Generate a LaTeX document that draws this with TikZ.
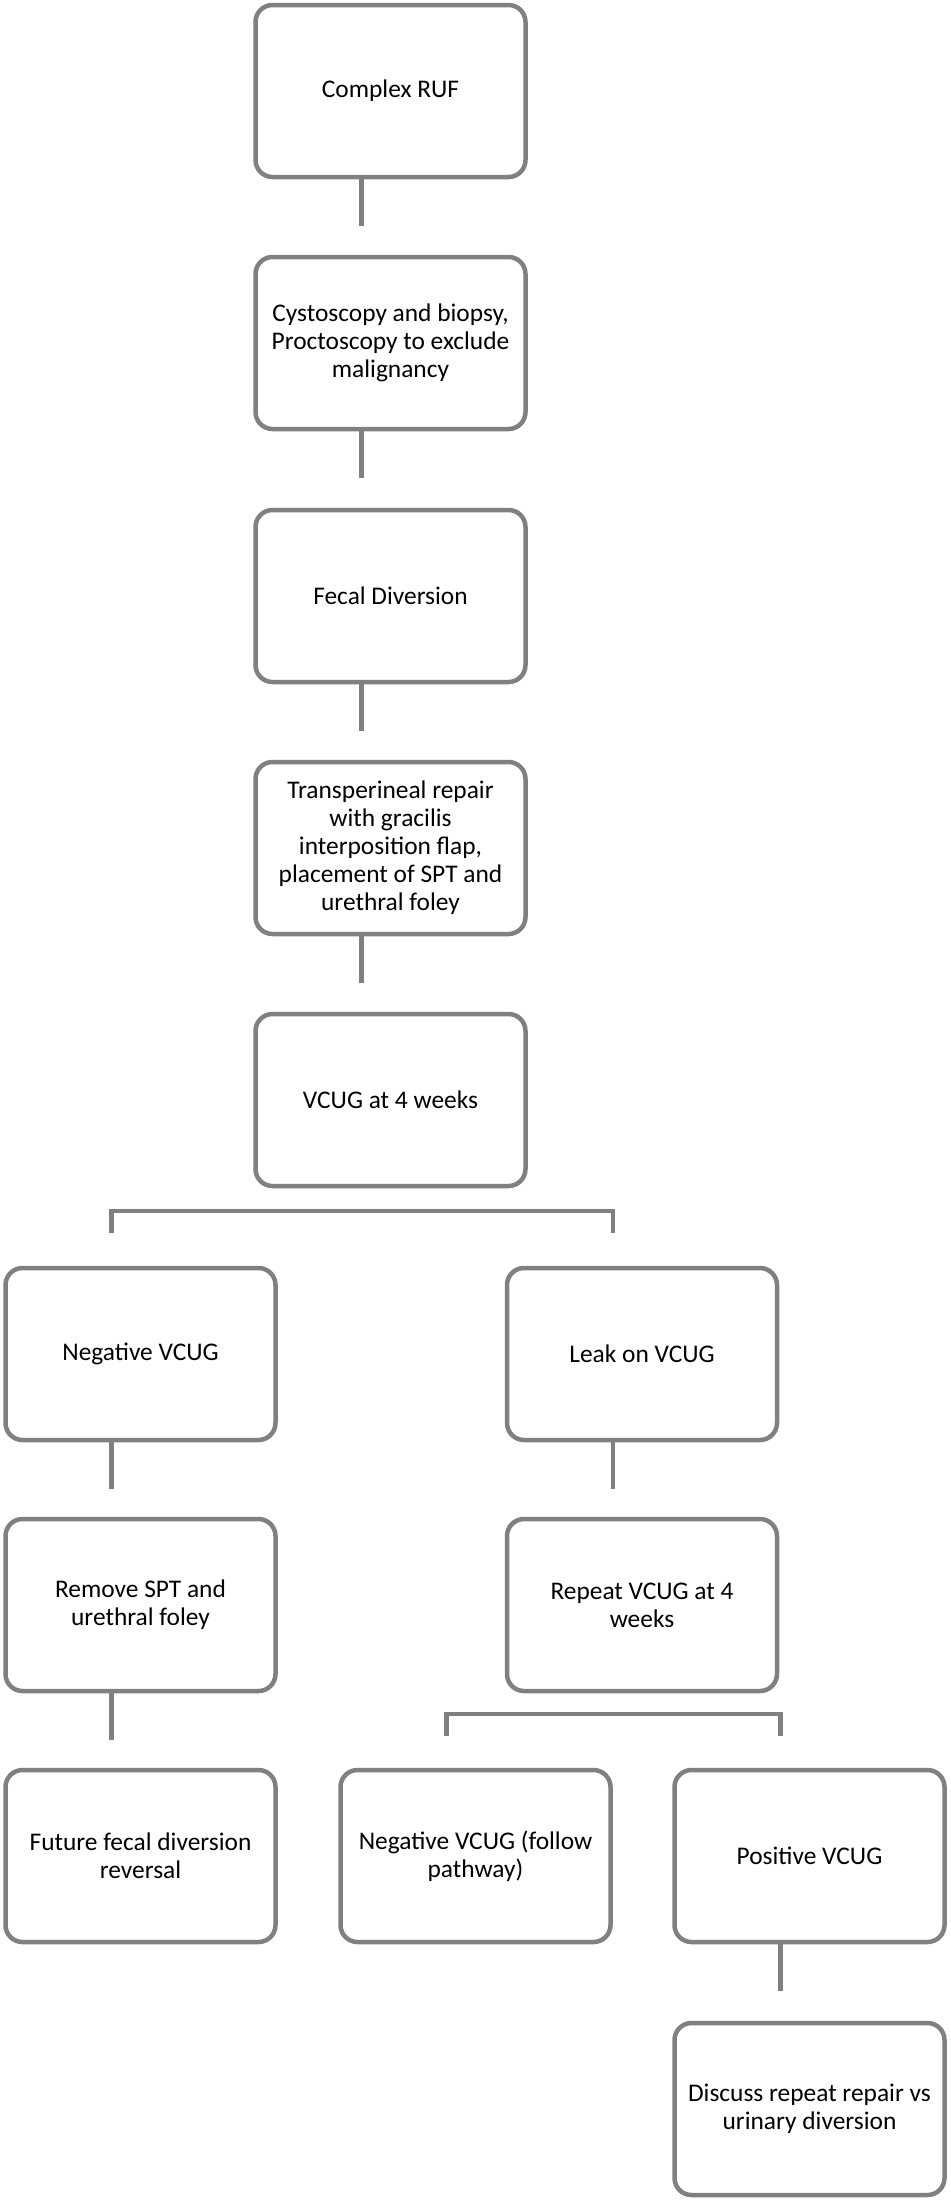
\documentclass[tikz,border=0pt]{standalone}
\usepackage{fontspec}
\setmainfont{Carlito}
\usetikzlibrary{calc}
\definecolor{boxgray}{RGB}{128,128,128}
\begin{document}
\begin{tikzpicture}[x=0.5pt,y=-0.5pt,
  box/.style={draw=boxgray, line width=2.25pt, rounded corners=8.5pt,
    minimum width=135pt, minimum height=86pt, inner sep=0pt, align=center,
    font=\fontsize{12.7}{14}\selectfont, fill=white},
  conn/.style={draw=boxgray, line width=2.25pt}]
\useasboundingbox (0,0) rectangle (950,2201);
% main column
\node[box] (ruf)   at (390.5,91)   {Complex RUF};
\node[box] (cysto) at (390.5,343)  {Cystoscopy and biopsy,\\Proctoscopy to exclude\\malignancy};
\node[box] (fecal) at (390.5,596)  {Fecal Diversion};
\node[box] (trans) at (390.5,848)  {Transperineal repair\\with gracilis\\interposition flap,\\placement of SPT and\\urethral foley};
\node[box] (vcug)  at (390.5,1100) {VCUG at 4 weeks};
% left branch
\node[box] (neg)    at (140.5,1354) {Negative VCUG};
\node[box] (remove) at (140.5,1605) {Remove SPT and\\urethral foley};
\node[box] (future) at (140.5,1856) {Future fecal diversion\\reversal};
% right branch
\node[box] (leak)   at (642,1354) {Leak on VCUG};
\node[box] (repeat) at (642,1605) {Repeat VCUG at 4\\weeks};
\node[box] (negf)   at (475.5,1856) {Negative VCUG (follow\\pathway)};
\node[box] (pos)    at (809.5,1856) {Positive VCUG};
\node[box] (discuss) at (809.5,2109) {Discuss repeat repair vs\\urinary diversion};
% straight connectors
\draw[conn] ($(ruf.south)+(-29,0)$) -- ++(0,47);
\draw[conn] ($(cysto.south)+(-29,0)$) -- ++(0,47);
\draw[conn] ($(fecal.south)+(-29,0)$) -- ++(0,47);
\draw[conn] ($(trans.south)+(-29,0)$) -- ++(0,47);
\draw[conn] ($(neg.south)+(-29,0)$) -- ++(0,47);
\draw[conn] ($(remove.south)+(-29,0)$) -- ++(0,47);
\draw[conn] ($(leak.south)+(-29,0)$) -- ++(0,47);
\draw[conn] ($(pos.south)+(-29,0)$) -- ++(0,47);
% split after VCUG
\coordinate (s1) at ($(neg.north)+(-29,-55)$);
\draw[conn] ($(vcug.south)+(-29,0)$) -- ($(vcug.south)+(-29,0)$ |- s1);
\draw[conn] ($(neg.north)+(-29,-33)$) -- (s1) -| ($(leak.north)+(-29,-33)$);
% split after repeat VCUG
\coordinate (s2) at ($(negf.north)+(-29,-54)$);
\draw[conn] ($(repeat.south)+(-29,0)$) -- ($(repeat.south)+(-29,0)$ |- s2);
\draw[conn] ($(negf.north)+(-29,-32)$) -- (s2) -| ($(pos.north)+(-29,-32)$);
\end{tikzpicture}
\end{document}
